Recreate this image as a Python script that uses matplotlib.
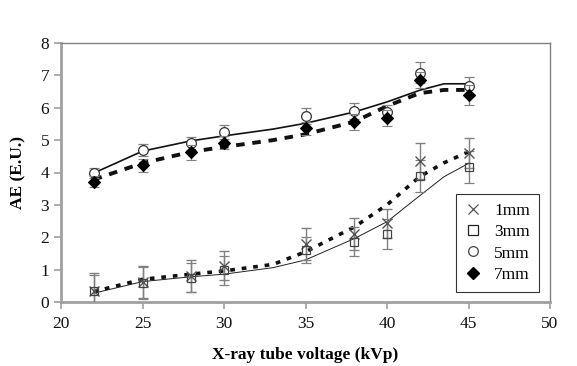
import numpy as np
import matplotlib
matplotlib.use("Agg")
import matplotlib.pyplot as plt
from matplotlib.lines import Line2D

kvp = [22, 25, 28, 30, 35, 38, 40, 42, 45]
ae_1mm = [0.35, 0.62, 0.80, 1.12, 1.80, 2.10, 2.43, 4.35, 4.60]
ae_3mm = [0.33, 0.58, 0.75, 0.98, 1.60, 1.86, 2.10, 3.90, 4.17]
ae_5mm = [3.98, 4.70, 4.90, 5.25, 5.75, 5.90, 5.87, 7.08, 6.66]
ae_7mm = [3.72, 4.22, 4.62, 4.92, 5.37, 5.55, 5.68, 6.85, 6.40]
err_1mm = [0.55, 0.50, 0.50, 0.45, 0.50, 0.50, 0.45, 0.55, 0.47]
err_3mm = [0.50, 0.50, 0.45, 0.45, 0.40, 0.45, 0.45, 0.50, 0.50]
err_5mm = [0.15, 0.18, 0.20, 0.22, 0.25, 0.25, 0.20, 0.33, 0.30]
err_7mm = [0.18, 0.20, 0.22, 0.20, 0.20, 0.25, 0.25, 0.25, 0.30]
labels = ["1mm", "3mm", "5mm", "7mm"]

# trend lines
trend_kvp = [22, 25, 28, 30, 33, 35, 38, 40, 42, 43.5, 45]
trend_1mm = [0.32, 0.70, 0.86, 0.96, 1.16, 1.55, 2.32, 3.00, 3.87, 4.30, 4.64]
trend_3mm = [0.27, 0.63, 0.78, 0.86, 1.06, 1.30, 1.96, 2.48, 3.28, 3.87, 4.28]
trend_5mm = [3.98, 4.66, 4.98, 5.13, 5.34, 5.52, 5.87, 6.18, 6.54, 6.74, 6.74]
trend_7mm = [3.78, 4.29, 4.64, 4.79, 5.00, 5.18, 5.57, 6.05, 6.45, 6.55, 6.55]

plt.rcParams['font.family'] = ['Liberation Serif', 'DejaVu Serif']

fig = plt.figure(figsize=(5.77, 3.66), dpi=100)
ax = fig.add_axes([61/577, (366-302)/366, (550-61)/577, (302-43)/366])

gray = '#808080'
x = np.array(kvp, dtype=float)

# trend lines
ax.plot(trend_kvp, trend_5mm, color='#111111', lw=1.2, zorder=2)
ax.plot(trend_kvp, trend_7mm, color='#111111', lw=2.8, ls=(0, (2.2, 2.0)), zorder=2)
ax.plot(trend_kvp, trend_3mm, color='#222222', lw=0.7, zorder=2)
ax.plot(trend_kvp, trend_1mm, color='#111111', lw=2.6, ls=(0, (1.3, 1.9)), zorder=2)

ekw = dict(ecolor=gray, elinewidth=1.0, capsize=3.6, capthick=1.0, ls='none')
ax.errorbar(x, ae_1mm, yerr=err_1mm, marker='x', ms=6.5, mew=1.0, mec='#555555', **ekw, zorder=3)
ax.errorbar(x, ae_3mm, yerr=err_3mm, marker='s', ms=6, mew=0.9, mfc='none', mec='#444444', **ekw, zorder=3)
ax.errorbar(x, ae_5mm, yerr=err_5mm, marker='o', ms=7, mew=0.9, mfc='white', mec='#333333', **ekw, zorder=3)
ax.errorbar(x, ae_7mm, yerr=err_7mm, marker='D', ms=6.5, mew=0.8, mfc='black', mec='black', **ekw, zorder=4)

ax.set_xlim(20, 50)
ax.set_ylim(0, 8)
ax.set_xticks([20, 25, 30, 35, 40, 45, 50])
ax.set_yticks(range(0, 9))
for s in ['left', 'bottom']:
    ax.spines[s].set_color('#a0a0a0')
    ax.spines[s].set_linewidth(2.0)
for s in ['top', 'right']:
    ax.spines[s].set_color(gray)
    ax.spines[s].set_linewidth(1.0)
ax.tick_params(axis='both', direction='out', length=5, width=1.2, color='#a0a0a0',
               labelsize=12.5, labelcolor='#111111')
ax.tick_params(axis='x', pad=5)

ax.set_xlabel('X-ray tube voltage (kVp)', fontsize=12.5, fontweight='bold', labelpad=11)
ax.set_ylabel('AE (E.U.)', fontsize=12.5, fontweight='bold', labelpad=10)

handles = [
    Line2D([], [], marker='x', ls='none', ms=6.5, mew=0.9, mec='#555555'),
    Line2D([], [], marker='s', ls='none', ms=6.5, mew=0.9, mfc='none', mec='#222222'),
    Line2D([], [], marker='o', ls='none', ms=7, mew=0.9, mfc='white', mec='#444444'),
    Line2D([], [], marker='D', ls='none', ms=6.5, mfc='black', mec='black'),
]
leg = fig.legend(handles, labels, loc='upper left', bbox_to_anchor=(456/577, 1-194/366),
                 bbox_transform=fig.transFigure, borderaxespad=0,
                 fontsize=12.5, frameon=True, fancybox=False, handlelength=1.0,
                 handletextpad=0.7, borderpad=0.5, labelspacing=0.3)
leg.get_frame().set_edgecolor('black')
leg.get_frame().set_linewidth(0.8)

fig.savefig('out.png', dpi=100)
